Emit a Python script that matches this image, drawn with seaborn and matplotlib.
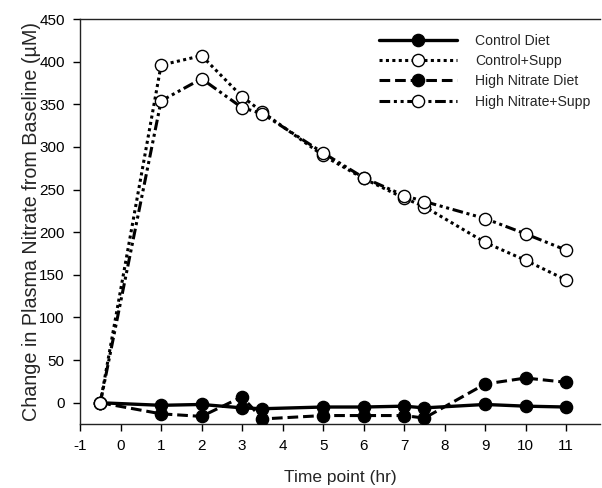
import pandas as pd
import matplotlib
matplotlib.use("Agg")
import matplotlib.pyplot as plt
import seaborn as sns

# time points (hr)
time_hr = [-0.5, 1, 2, 3, 3.5, 5, 6, 7, 7.5, 9, 10, 11]

control_diet = [0, -3, -2, -6, -7, -5, -5, -4, -6, -2, -4, -5]
control_supp = [0, 396, 407, 359, 341, 290, 263, 240, 230, 188, 167, 144]
high_nitrate_diet = [0, -13, -16, 7, -19, -15, -15, -15, -18, 22, 29, 24]
high_nitrate_supp = [0, 354, 380, 346, 339, 293, 264, 243, 236, 216, 198, 179]

series_names = ["Control Diet", "Control+Supp", "High Nitrate Diet", "High Nitrate+Supp"]
series_values = [control_diet, control_supp, high_nitrate_diet, high_nitrate_supp]

x_ticks = list(range(-1, 12))
y_ticks = list(range(0, 451, 50))

df = pd.DataFrame({
    "time": time_hr * len(series_names),
    "value": sum(series_values, []),
    "group": [n for n in series_names for _ in time_hr],
})

sns.set_style("ticks")
plt.rcParams["font.family"] = ["Liberation Sans", "DejaVu Sans"]
plt.rcParams["axes.unicode_minus"] = False

styles = {
    "Control Diet": dict(dashes="-", filled=True, lw=2.4),
    "Control+Supp": dict(dashes=(1, 1.1), filled=False, lw=2.2),
    "High Nitrate Diet": dict(dashes=(3.5, 1.6), filled=True, lw=2.2),
    "High Nitrate+Supp": dict(dashes=(3.5, 1.2, 1, 1.2, 1, 1.2), filled=False, lw=2.2),
}

fig = plt.figure(figsize=(6.02, 4.88), dpi=100)
ax = fig.add_axes([0.133, 0.131, 0.864, 0.830])

for name in series_names:
    st = styles[name]
    sub = df[df["group"] == name]
    sns.lineplot(data=sub, x="time", y="value", ax=ax, color="black",
                 linewidth=st["lw"], marker="o", markersize=8.8,
                 markerfacecolor="black" if st["filled"] else "white",
                 markeredgecolor="black", markeredgewidth=1.0,
                 label=name, zorder=3)
    line = ax.lines[-1]
    if st["dashes"] == "-":
        line.set_linestyle("-")
    else:
        line.set_dashes(st["dashes"])

ax.set_xlim(-1, 11.84)
ax.set_ylim(-25, 450)
ax.set_xticks(x_ticks)
ax.set_yticks(y_ticks)
ax.tick_params(axis="both", labelsize=11, direction="out", length=5, width=1,
               colors="black", pad=6)
ax.set_xlabel("Time point (hr)", fontsize=12.5, labelpad=12)
ax.set_ylabel("Change in Plasma Nitrate from Baseline (\u00b5M)", fontsize=14.2, labelpad=-1)

for side in ["left", "bottom", "top"]:
    ax.spines[side].set_color("#222222")
    ax.spines[side].set_linewidth(1.0)
ax.spines["right"].set_visible(False)

ax.legend(loc="upper right", bbox_to_anchor=(1.006, 0.995), frameon=False,
          fontsize=10.1, handlelength=5.6, handletextpad=1.3, labelspacing=0.45)

fig.savefig("out.png", dpi=100)
